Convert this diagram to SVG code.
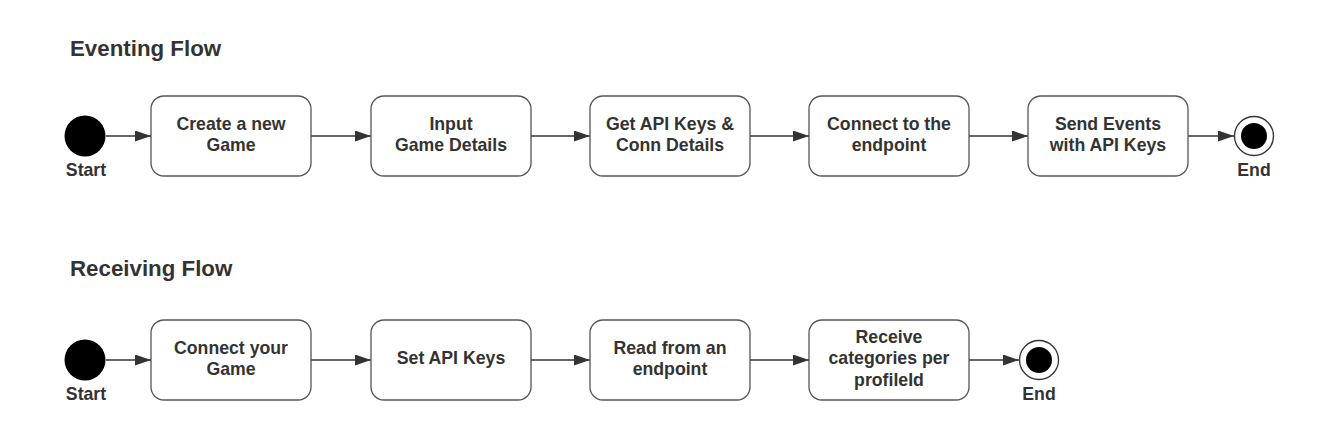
<svg xmlns="http://www.w3.org/2000/svg" width="1340" height="428" viewBox="0 0 1340 428">
<defs>
<marker id="ah" markerWidth="16" markerHeight="11" refX="16" refY="5.5" orient="auto" markerUnits="userSpaceOnUse">
<path d="M0,0 L16,5.5 L0,11 Z" fill="#333"/>
</marker>
<style>
.t{font-family:"Liberation Sans",Arial,sans-serif;font-weight:bold;fill:#333;}
.title{font-size:22.3px;}
.lbl{font-size:17.7px;text-anchor:middle;}
.box{fill:#fff;stroke:#555;stroke-width:1.3;}
.c{stroke:#333;stroke-width:1.3;fill:none;marker-end:url(#ah);}
</style>
</defs>
<rect width="1340" height="428" fill="#fff"/>
<text class="t title" x="70" y="56">Eventing Flow</text>
<text class="t title" x="70" y="276">Receiving Flow</text>

<g id="connectors">
<line class="c" x1="106" y1="136" x2="151" y2="136"/>
<line class="c" x1="311" y1="136" x2="371" y2="136"/>
<line class="c" x1="531" y1="136" x2="590" y2="136"/>
<line class="c" x1="750" y1="136" x2="809" y2="136"/>
<line class="c" x1="969" y1="136" x2="1028" y2="136"/>
<line class="c" x1="1188" y1="136" x2="1234" y2="136"/>
<line class="c" x1="106" y1="360" x2="151" y2="360"/>
<line class="c" x1="311" y1="360" x2="371" y2="360"/>
<line class="c" x1="531" y1="360" x2="590" y2="360"/>
<line class="c" x1="750" y1="360" x2="809" y2="360"/>
<line class="c" x1="969" y1="360" x2="1019" y2="360"/>
</g>

<g id="start1"><circle cx="85" cy="136" r="20.5" fill="#000"/><text class="t lbl" x="86" y="176">Start</text></g>
<g id="e1"><rect class="box" x="151" y="96" width="160" height="80" rx="13"/><text class="t lbl" x="231" y="129.5">Create a new</text><text class="t lbl" x="231" y="150.5">Game</text></g>
<g id="e2"><rect class="box" x="371" y="96" width="160" height="80" rx="13"/><text class="t lbl" x="451" y="129.5">Input</text><text class="t lbl" x="451" y="150.5">Game Details</text></g>
<g id="e3"><rect class="box" x="590" y="96" width="160" height="80" rx="13"/><text class="t lbl" x="670" y="129.5">Get API Keys &amp;</text><text class="t lbl" x="670" y="150.5">Conn Details</text></g>
<g id="e4"><rect class="box" x="809" y="96" width="160" height="80" rx="13"/><text class="t lbl" x="889" y="129.5">Connect to the</text><text class="t lbl" x="889" y="150.5">endpoint</text></g>
<g id="e5"><rect class="box" x="1028" y="96" width="160" height="80" rx="13"/><text class="t lbl" x="1108" y="129.5">Send Events</text><text class="t lbl" x="1108" y="150.5">with API Keys</text></g>
<g id="end1"><circle cx="1254" cy="136" r="19.5" fill="#fff" stroke="#333" stroke-width="1.3"/><circle cx="1254" cy="136" r="13" fill="#000"/><text class="t lbl" x="1254" y="176">End</text></g>

<g id="start2"><circle cx="85" cy="360" r="20.5" fill="#000"/><text class="t lbl" x="86" y="400">Start</text></g>
<g id="r1"><rect class="box" x="151" y="320" width="160" height="80" rx="13"/><text class="t lbl" x="231" y="353.5">Connect your</text><text class="t lbl" x="231" y="374.5">Game</text></g>
<g id="r2"><rect class="box" x="371" y="320" width="160" height="80" rx="13"/><text class="t lbl" x="451" y="364">Set API Keys</text></g>
<g id="r3"><rect class="box" x="590" y="320" width="160" height="80" rx="13"/><text class="t lbl" x="670" y="353.5">Read from an</text><text class="t lbl" x="670" y="374.5">endpoint</text></g>
<g id="r4"><rect class="box" x="809" y="320" width="160" height="80" rx="13"/><text class="t lbl" x="889" y="342.5">Receive</text><text class="t lbl" x="889" y="364">categories per</text><text class="t lbl" x="889" y="385.5">profileId</text></g>
<g id="end2"><circle cx="1039" cy="360" r="19.5" fill="#fff" stroke="#333" stroke-width="1.3"/><circle cx="1039" cy="360" r="13" fill="#000"/><text class="t lbl" x="1039" y="400">End</text></g>
</svg>
